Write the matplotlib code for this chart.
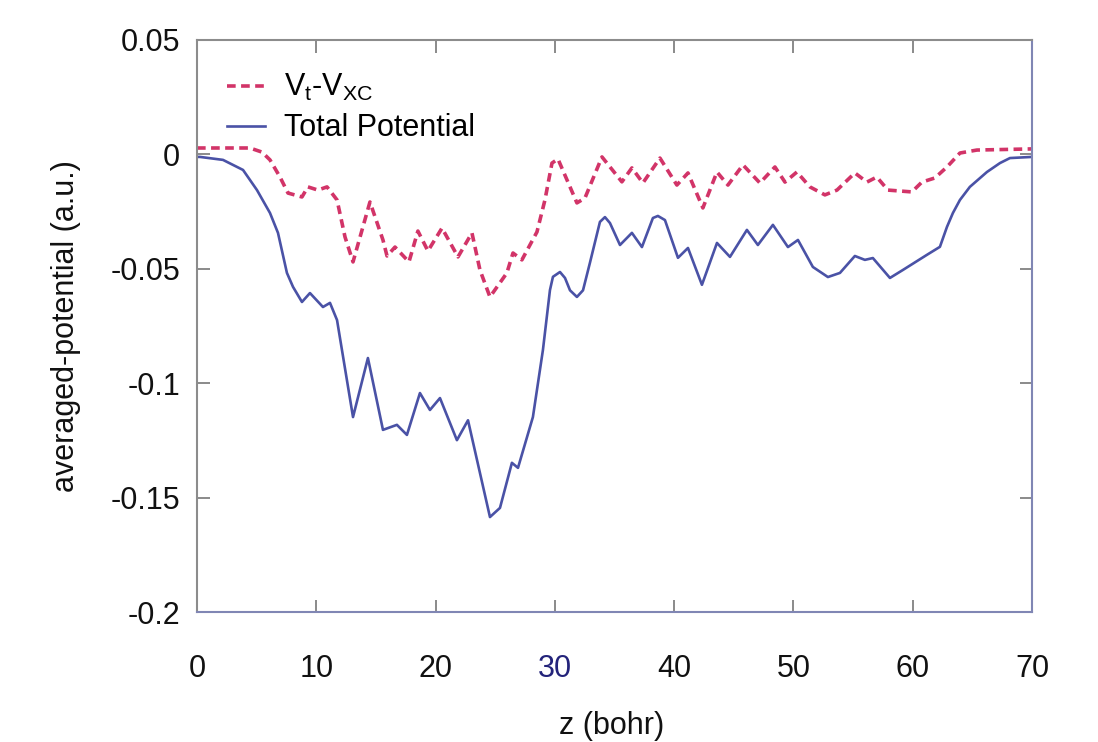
import matplotlib
matplotlib.use('Agg')
import matplotlib.pyplot as plt

# values
z_total = [0, 0.25, 2.18, 3.86, 5.03, 6.12, 6.79, 7.54, 8.05, 8.80, 9.47, 10.56, 11.15,
           11.74, 13.08, 14.33, 15.59, 16.76, 17.60, 18.69, 19.53, 20.37, 21.79, 22.72,
           24.56, 25.40, 26.40, 26.91, 28.16, 29.0, 29.59, 29.84, 30.43, 30.85, 31.27,
           31.85, 32.36, 32.94, 33.78, 34.20, 34.62, 35.46, 36.46, 37.30, 38.22, 38.64,
           39.23, 40.32, 41.16, 42.33, 43.59, 44.68, 46.10, 47.02, 48.28, 49.54, 50.38,
           51.63, 52.89, 53.90, 55.15, 55.99, 56.66, 58.09, 59.18, 61.19, 62.28, 62.87,
           63.37, 63.96, 64.79, 66.22, 67.31, 68.15, 70]
v_total = [-0.0011, -0.0011, -0.0024, -0.0068, -0.0156, -0.0256, -0.0343, -0.0518,
           -0.0579, -0.0645, -0.0606, -0.0667, -0.0649, -0.0724, -0.1148, -0.0890,
           -0.1204, -0.1182, -0.1226, -0.1043, -0.1117, -0.1065, -0.1249, -0.1162,
           -0.1585, -0.1545, -0.1348, -0.1370, -0.1148, -0.0855, -0.0593, -0.0535,
           -0.0514, -0.0540, -0.0594, -0.0623, -0.0594, -0.0474, -0.0295, -0.0274,
           -0.0300, -0.0396, -0.0343, -0.0405, -0.0278, -0.0269, -0.0287, -0.0452,
           -0.0409, -0.0570, -0.0387, -0.0448, -0.0330, -0.0396, -0.0308, -0.0405,
           -0.0374, -0.0492, -0.0536, -0.0518, -0.0444, -0.0461, -0.0453, -0.0540,
           -0.0505, -0.0439, -0.0404, -0.0317, -0.0256, -0.0199, -0.0142, -0.0077,
           -0.0038, -0.0016, -0.0011]

z_vt = [0, 4.44, 5.45, 6.12, 6.96, 7.63, 8.80, 9.30, 10.14, 10.90, 11.74, 12.41, 13.08,
        14.50, 15.59, 15.93, 16.60, 17.77, 18.52, 19.36, 20.54, 21.88, 23.05, 23.72,
        24.56, 25.98, 26.49, 27.24, 28.50, 29.17, 29.76, 30.26, 31.85, 32.52, 33.95,
        35.62, 36.46, 37.38, 38.81, 40.23, 41.16, 42.41, 43.59, 44.51, 45.77, 47.19,
        48.45, 49.29, 50.29, 51.38, 52.64, 53.65, 55.15, 56.16, 56.99, 57.92, 59.93,
        60.77, 61.86, 62.87, 63.96, 65.38, 70]
v_vt = [0.0028, 0.0028, 0.0010, -0.0024, -0.0099, -0.0169, -0.0186, -0.0142, -0.0156,
        -0.0142, -0.0199, -0.0361, -0.0470, -0.0208, -0.0374, -0.0444, -0.0405, -0.0470,
        -0.0335, -0.0422, -0.0322, -0.0448, -0.0343, -0.0505, -0.0623, -0.0518, -0.0431,
        -0.0461, -0.0339, -0.0199, -0.0038, -0.0020, -0.0212, -0.0191, -0.0011, -0.0120,
        -0.0059, -0.0125, -0.0016, -0.0134, -0.0081, -0.0234, -0.0077, -0.0134, -0.0046,
        -0.0125, -0.0055, -0.0121, -0.0077, -0.0142, -0.0177, -0.0156, -0.0081, -0.0121,
        -0.0099, -0.0156, -0.0164, -0.0121, -0.0103, -0.0055, 0.0006, 0.0019, 0.0024]

xticks = [0, 10, 20, 30, 40, 50, 60, 70]
yticks = [0.05, 0, -0.05, -0.1, -0.15, -0.2]
ytick_labels = ['0.05', '0', '-0.05', '-0.1', '-0.15', '-0.2']

plt.rcParams['font.family'] = ['Liberation Sans', 'DejaVu Sans']

fig = plt.figure(figsize=(10.98, 7.42), dpi=100)
ax = fig.add_axes([0.1794, 0.1752, 0.7605, 0.7709])

ax.plot(z_vt, v_vt, color='#d23468', lw=2.6, linestyle=(0, (2.4, 1.5)),
        label='V$_\\mathregular{t}$-V$_\\mathregular{XC}$')
ax.plot(z_total, v_total, color='#4a52a6', lw=1.9, label='Total Potential')

ax.set_xlim(0, 70)
ax.set_ylim(-0.2, 0.05)
ax.set_xticks(xticks)
ax.set_yticks(yticks)
ax.set_yticklabels(ytick_labels)

ax.tick_params(direction='in', length=9, width=1.2, top=True, right=True,
               labelsize=22, colors='#777777', labelcolor='#111111')
ax.tick_params(axis='x', pad=30)
ax.tick_params(axis='y', pad=12)
ax.get_xticklabels()[3].set_color('#23237a')

for side in ['left', 'top']:
    ax.spines[side].set_color('#8c8c8c')
for side in ['bottom', 'right']:
    ax.spines[side].set_color('#8086b4')
for sp in ax.spines.values():
    sp.set_linewidth(1.5)

ax.set_ylabel('averaged-potential (a.u.)', fontsize=22, color='#111111', labelpad=21)
# the reference crops this label at the bottom edge; keep it just inside
fig.text(0.557, 0.002, 'z (bohr)', fontsize=22, color='#111111', ha='center', va='bottom')

ax.legend(loc='upper left', frameon=False, fontsize=22, handlelength=1.25,
          handletextpad=0.6, labelspacing=0.33, bbox_to_anchor=(0.0104, 0.981),
          borderaxespad=0.3)

fig.savefig('out.png', dpi=100)
